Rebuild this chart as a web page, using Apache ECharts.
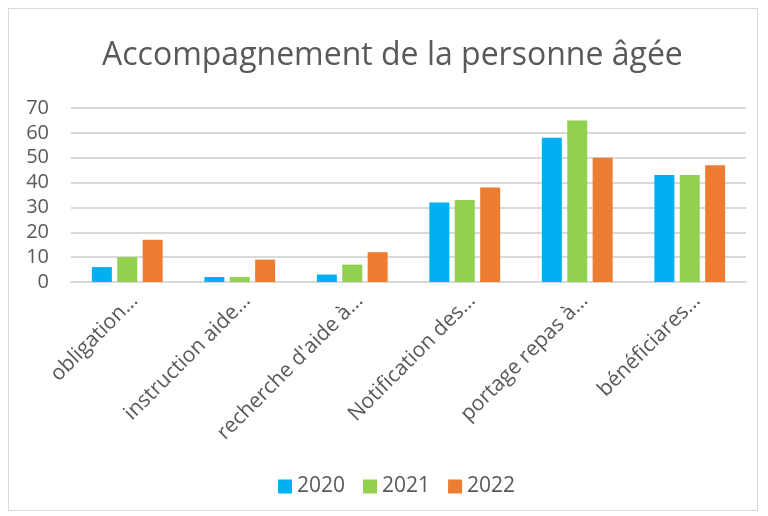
<!DOCTYPE html>
<html><head><meta charset="utf-8">
<script src="https://cdn.jsdelivr.net/npm/echarts@6/dist/echarts.min.js"></script>
<style>
html,body{margin:0;padding:0;background:#fff;}
#frame{position:absolute;left:8px;top:8px;width:750px;height:503px;border:1px solid #D9D9D9;box-sizing:border-box;}
#c{position:absolute;left:0;top:0;width:768px;height:516px;}
</style></head>
<body><div id="frame"></div><div id="c"></div>
<script>
var categories = ["obligation…","instruction aide…","recherche d'aide à…","Notification des…","portage repas à…","béneficiares…"];
categories[5] = "bénéficiares…";
var series2020 = [6, 2, 3, 32, 58, 43];
var series2021 = [10, 2, 7, 33, 65, 43];
var series2022 = [17, 9, 12, 38, 50, 47];
var yTicks = [0, 10, 20, 30, 40, 50, 60, 70];

var chart = echarts.init(document.getElementById('c'));
var font = "'Open Sans', sans-serif";
function bar(name, data, color){
  return {name:name, type:'bar', data:data, barWidth:20, barGap:'27%',
    itemStyle:{color:color}};
}
chart.setOption({
  animation:false,
  title:{text:'Accompagnement de la personne âgée', left:97, top:35,
    textStyle:{fontFamily:font, fontSize:32, fontWeight:'normal', color:'#595959'}},
  grid:{left:71, right:22, top:108, bottom:234},
  legend:{top:471, left:273, itemWidth:14, itemHeight:14, itemGap:18,
    icon:'rect', textStyle:{fontFamily:font, fontSize:21, color:'#595959'}},
  xAxis:{type:'category', data:categories,
    axisLine:{lineStyle:{color:'#D9D9D9', width:2}}, axisTick:{show:false},
    axisLabel:{rotate:45, interval:0, fontFamily:font, fontSize:21, color:'#595959', margin:8,
      verticalAlign:'top', align:'right'}},
  yAxis:{type:'value', min:yTicks[0], max:yTicks[yTicks.length-1], interval:10,
    axisLine:{show:false}, axisTick:{show:false},
    axisLabel:{fontFamily:font, fontSize:20, color:'#595959', margin:22},
    splitLine:{lineStyle:{color:'#D9D9D9', width:2}}},
  series:[bar('2020', series2020, '#00B0F0'), bar('2021', series2021, '#92D050'), bar('2022', series2022, '#ED7D31')]
});
</script></body></html>
